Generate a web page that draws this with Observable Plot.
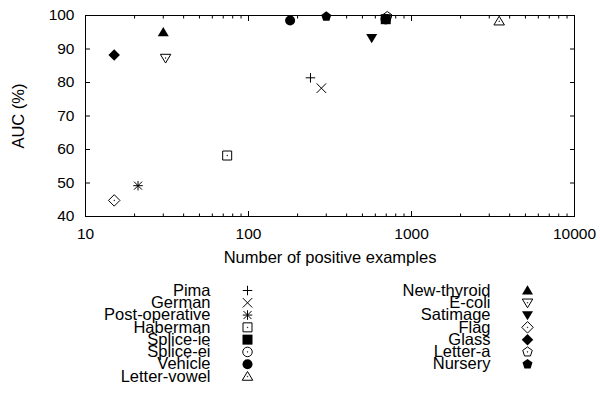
<!DOCTYPE html>
<html><head><meta charset="utf-8">
<script src="https://cdn.jsdelivr.net/npm/d3@7"></script>
<script src="https://cdn.jsdelivr.net/npm/@observablehq/plot@0.6"></script>
<style>
html,body{margin:0;padding:0;background:#fff}
#chart svg{display:block}
</style>
</head><body><div id="chart"></div>
<script>
// ---- data ----
const datasets = ["Pima","German","Post-operative","Haberman","Splice-ie","Splice-ei","Vehicle","Letter-vowel",
                  "New-thyroid","E-coli","Satimage","Flag","Glass","Letter-a","Nursery"];
const positives = [240, 280, 21, 74, 695, 695, 180, 3450, 30, 31, 570, 15, 15, 710, 300];
const aucValues = [81.4, 78.3, 49.2, 58.2, 98.9, 98.9, 98.5, 98.3, 95.0, 87.3, 93.3, 44.8, 88.2, 99.7, 99.7];
const symbolKinds = ["plus","times","star","box","boxFilled","circle","circleFilled","triangle",
                     "triangleFilled","triangleDown","triangleDownFilled","diamond","diamondFilled","pentagon","pentagonFilled"];
const xMajorTicks = [10, 100, 1000, 10000];
const xMinorTicks = [20,30,40,50,60,70,80,90,200,300,400,500,600,700,800,900,2000,3000,4000,5000,6000,7000,8000,9000];
const yTicks = [40, 50, 60, 70, 80, 90, 100];
const xLabel = "Number of positive examples";
const yLabel = "AUC (%)";

// ---- gnuplot-like symbols ----
const rad = s => Math.sqrt(s / Math.PI);
function centerDot(c){ c.moveTo(0.3,0); c.arc(0,0,0.3,0,2*Math.PI); }
function poly(c, pts){ c.moveTo(pts[0][0], pts[0][1]); for (let i=1;i<pts.length;i++) c.lineTo(pts[i][0], pts[i][1]); c.closePath(); }
const tri = (r, k) => [[0,-1.0*r*k],[1.05*r,0.75*r*k],[-1.05*r,0.75*r*k]];
const diam = r => [[0,-1.15*r],[1.15*r,0],[0,1.15*r],[-1.15*r,0]];
const pent = r => d3.range(5).map(i => { const a = -Math.PI/2 + i*2*Math.PI/5; return [r*Math.cos(a), r*Math.sin(a)]; });
const SYM = {
  plus: {draw(c,s){const r=rad(s)*0.95; c.moveTo(-r,0);c.lineTo(r,0);c.moveTo(0,-r);c.lineTo(0,r);}},
  times: {draw(c,s){const r=rad(s)*0.95; c.moveTo(-r,-r);c.lineTo(r,r);c.moveTo(-r,r);c.lineTo(r,-r);}},
  star: {draw(c,s){const r=rad(s)*0.95, q=rad(s)*0.8; c.moveTo(-r,0);c.lineTo(r,0);c.moveTo(0,-r);c.lineTo(0,r);
                    c.moveTo(-q,-q);c.lineTo(q,q);c.moveTo(-q,q);c.lineTo(q,-q);}},
  box: {draw(c,s){const r=rad(s)*0.9; c.rect(-r,-r,2*r,2*r); centerDot(c);}},
  boxFilled: {draw(c,s){const r=rad(s)*1.0; c.rect(-r,-r,2*r,2*r);}},
  circle: {draw(c,s){const r=rad(s)*0.95; c.moveTo(r,0); c.arc(0,0,r,0,2*Math.PI); centerDot(c);}},
  circleFilled: {draw(c,s){const r=rad(s)*1.0; c.moveTo(r,0); c.arc(0,0,r,0,2*Math.PI);}},
  triangle: {draw(c,s){poly(c, tri(rad(s), 1)); centerDot(c);}},
  triangleFilled: {draw(c,s){poly(c, tri(rad(s)*1.05, 1));}},
  triangleDown: {draw(c,s){poly(c, tri(rad(s), -1)); centerDot(c);}},
  triangleDownFilled: {draw(c,s){poly(c, tri(rad(s)*1.05, -1));}},
  diamond: {draw(c,s){poly(c, diam(rad(s))); centerDot(c);}},
  diamondFilled: {draw(c,s){poly(c, diam(rad(s)));}},
  pentagon: {draw(c,s){poly(c, pent(rad(s))); centerDot(c);}},
  pentagonFilled: {draw(c,s){poly(c, pent(rad(s)*1.05));}}
};
const isFilled = k => k.endsWith("Filled");

const rows = datasets.map((name, i) => ({name, n: positives[i], auc: aucValues[i], kind: symbolKinds[i],
  col: i < 8 ? 0 : 1, row: i < 8 ? i : i - 8}));

const FONT = "'Liberation Sans', Arial, Helvetica, sans-serif";
const TICK_FS = 15.5, TEXT_FS = 16.5;

function dotMarks(data, xk, yk){
  return data.map(d => Plot.dot([d], {x: xk, y: yk, symbol: SYM[d.kind], r: 5,
    fill: isFilled(d.kind) ? "black" : "none",
    stroke: isFilled(d.kind) ? "none" : "black", strokeWidth: 1}));
}

const main = Plot.plot({
  width: 600, height: 270,
  marginTop: 15, marginBottom: 54, marginLeft: 85, marginRight: 26,
  x: {type: "log", domain: [10, 10000]},
  y: {domain: [40, 100]},
  style: {fontFamily: FONT, fontSize: TICK_FS + "px", color: "black", background: "white"},
  marks: [
    Plot.frame({stroke: "black", strokeWidth: 1}),
    Plot.axisX(xMajorTicks, {anchor: "bottom", tickSize: 5, dy: -5, fill: "none", label: null}),
    Plot.axisX(xMinorTicks, {anchor: "bottom", tickSize: 2.5, dy: -2.5, fill: "none", label: null}),
    Plot.axisX(xMajorTicks, {anchor: "top", tickSize: 5, dy: 5, fill: "none", label: null}),
    Plot.axisX(xMinorTicks, {anchor: "top", tickSize: 2.5, dy: 2.5, fill: "none", label: null}),
    Plot.axisX(xMajorTicks, {anchor: "bottom", tickSize: 0, tickPadding: 11, tickFormat: d => String(d), label: null, fontSize: TICK_FS}),
    Plot.axisY(yTicks, {anchor: "left", tickSize: 5, dx: 5, fill: "none", label: null}),
    Plot.axisY(yTicks, {anchor: "right", tickSize: 5, dx: -5, fill: "none", label: null}),
    Plot.axisY(yTicks, {anchor: "left", tickSize: 0, tickPadding: 11, tickFormat: d => String(d), label: null, fontSize: TICK_FS}),
    Plot.text([xLabel], {text: d => d, frameAnchor: "bottom", dy: 41, textAnchor: "middle", lineAnchor: "middle", fontSize: TEXT_FS, fill: "black"}),
    Plot.text([yLabel], {text: d => d, frameAnchor: "left", rotate: -90, dx: -67, textAnchor: "middle", lineAnchor: "middle", fontSize: TEXT_FS, fill: "black"}),
    ...dotMarks(rows, "n", "auc")
  ]
});

const legend = Plot.plot({
  width: 600, height: 147, margin: 0,
  x: {domain: [0, 1], range: [247, 527], axis: null},
  y: {domain: [0, 7], range: [20, 106], axis: null},
  style: {fontFamily: FONT, fontSize: TEXT_FS + "px", color: "black", background: "white"},
  marks: [
    Plot.text(rows, {x: "col", y: "row", text: "name", textAnchor: "end", dx: -37, lineAnchor: "middle", fontSize: TEXT_FS, fill: "black"}),
    ...dotMarks(rows, "col", "row")
  ]
});

const chart = document.getElementById("chart");
chart.append(main, legend);
</script>
</body></html>
